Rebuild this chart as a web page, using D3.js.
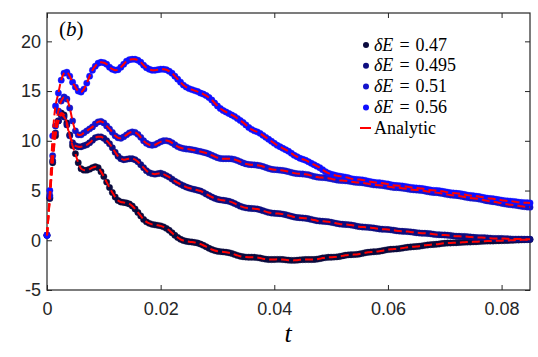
<!DOCTYPE html>
<html>
<head>
<meta charset="utf-8">
<script src="https://cdn.jsdelivr.net/npm/d3@7"></script>
<style>
  body { margin: 0; background: #fff; }
  svg { display: block; }
  .tick text { font-family: "Liberation Sans", Arial, sans-serif; font-size: 18px; fill: #262626; }
  .tick line { stroke: #262626; stroke-width: 1; }
</style>
</head>
<body>
<div id="chart"></div>
<script>
// sampling step of the simulation output (t axis)
const tStep = 0.0005

// delta E = 0.47
const dE047 = [
  0.5,4.2,7.8,10.5,12.0,12.8,12.6,11.8,10.6,9.5,
  8.7,7.8,7.2,7.05,7.05,7.15,7.3,7.4,7.3,6.9,
  6.4,5.85,5.3,4.8,4.35,4.0,3.85,3.8,3.75,3.65,
  3.45,3.15,2.8,2.45,2.1,1.85,1.7,1.6,1.55,1.5,
  1.45,1.35,1.2,1.0,0.75,0.5,0.28,0.1,-0.02,-0.1,
  -0.15,-0.18,-0.22,-0.28,-0.38,-0.5,-0.65,-0.8,-0.93,-1.03,
  -1.1,-1.14,-1.17,-1.2,-1.25,-1.32,-1.42,-1.52,-1.6,-1.66,
  -1.69,-1.7,-1.7,-1.71,-1.74,-1.79,-1.85,-1.9,-1.93,-1.94,
  -1.93,-1.92,-1.92,-1.94,-1.97,-2.0,-2.02,-2.02,-2.0,-1.97,
  -1.95,-1.94,-1.94,-1.94,-1.93,-1.9,-1.85,-1.79,-1.74,-1.71,
  -1.7,-1.69,-1.67,-1.63,-1.57,-1.51,-1.47,-1.45,-1.44,-1.42,
  -1.38,-1.32,-1.26,-1.21,-1.18,-1.16,-1.14,-1.1,-1.05,-0.99,
  -0.94,-0.91,-0.89,-0.87,-0.84,-0.79,-0.74,-0.7,-0.67,-0.65,
  -0.63,-0.6,-0.56,-0.51,-0.47,-0.44,-0.42,-0.4,-0.37,-0.33,
  -0.3,-0.28,-0.27,-0.26,-0.25,-0.23,-0.21,-0.19,-0.18,-0.17,
  -0.16,-0.15,-0.13,-0.11,-0.09,-0.08,-0.08,-0.07,-0.06,-0.05,
  -0.04,-0.03,-0.02,-0.01,0.0,0.02,0.03,0.04,0.05,0.06,
  0.07
]

// delta E = 0.495
const dE0495 = [
  0.5,4.3,8.0,10.8,12.0,12.6,12.4,11.6,10.5,9.8,
  9.5,9.4,9.4,9.5,9.6,9.8,10.05,10.3,10.4,10.4,
  10.25,10.0,9.7,9.3,8.85,8.45,8.2,8.1,8.15,8.2,
  8.2,8.1,7.9,7.6,7.3,7.0,6.8,6.7,6.65,6.7,
  6.75,6.65,6.5,6.35,6.15,5.95,5.78,5.62,5.48,5.35,
  5.25,5.17,5.1,5.03,4.95,4.82,4.65,4.5,4.35,4.22,
  4.12,4.06,4.02,3.98,3.92,3.83,3.7,3.56,3.43,3.33,
  3.26,3.22,3.2,3.18,3.14,3.07,2.98,2.88,2.8,2.74,
  2.71,2.69,2.67,2.63,2.57,2.49,2.41,2.34,2.29,2.26,
  2.24,2.21,2.16,2.1,2.03,1.97,1.93,1.91,1.89,1.86,
  1.81,1.75,1.69,1.64,1.61,1.59,1.57,1.53,1.48,1.42,
  1.37,1.34,1.32,1.3,1.27,1.23,1.18,1.14,1.11,1.1,
  1.08,1.05,1.01,0.96,0.92,0.9,0.89,0.87,0.84,0.8,
  0.76,0.73,0.71,0.7,0.68,0.65,0.61,0.57,0.55,0.54,
  0.53,0.51,0.48,0.44,0.41,0.4,0.39,0.38,0.36,0.33,
  0.3,0.28,0.27,0.27,0.26,0.24,0.21,0.19,0.18,0.18,
  0.18,0.17,0.15,0.13,0.12,0.12,0.12,0.12,0.11,0.1,
  0.1
]

// delta E = 0.51
const dE051 = [
  0.5,4.5,8.5,11.5,13.0,14.0,14.4,14.2,13.3,12.0,
  11.0,10.6,10.6,10.8,11.0,11.2,11.4,11.7,11.9,11.95,
  11.8,11.5,11.2,10.85,10.5,10.3,10.25,10.4,10.6,10.8,
  10.9,10.85,10.65,10.35,10.0,9.75,9.6,9.55,9.6,9.75,
  9.9,10.0,10.02,9.95,9.8,9.6,9.42,9.3,9.22,9.18,
  9.15,9.1,9.05,8.98,8.92,8.85,8.78,8.68,8.55,8.42,
  8.3,8.22,8.2,8.2,8.2,8.18,8.12,8.02,7.9,7.78,
  7.68,7.62,7.6,7.58,7.55,7.5,7.42,7.32,7.22,7.14,
  7.1,7.08,7.05,7.02,6.97,6.9,6.82,6.75,6.7,6.68,
  6.66,6.63,6.58,6.5,6.42,6.36,6.32,6.3,6.28,6.24,
  6.18,6.12,6.06,6.02,6.0,5.98,5.95,5.9,5.85,5.82,
  5.8,5.78,5.74,5.68,5.62,5.57,5.55,5.53,5.5,5.45,
  5.4,5.35,5.31,5.29,5.27,5.24,5.2,5.15,5.1,5.07,
  5.05,5.03,5.0,4.95,4.89,4.84,4.81,4.79,4.76,4.71,
  4.65,4.59,4.55,4.52,4.5,4.46,4.41,4.35,4.29,4.25,
  4.22,4.19,4.15,4.09,4.02,3.96,3.92,3.88,3.84,3.78,
  3.72,3.66,3.62,3.58,3.55,3.51,3.46,3.41,3.38,3.35,
  3.33
]

// delta E = 0.56
const dE056 = [
  0.5,5.0,10.5,13.5,14.8,16.1,16.8,16.9,16.5,15.9,
  15.4,15.0,14.9,15.2,15.8,16.5,17.1,17.5,17.8,17.9,
  17.85,17.7,17.4,17.2,17.1,17.15,17.4,17.7,18.0,18.15,
  18.2,18.2,18.1,17.9,17.6,17.35,17.2,17.1,17.1,17.15,
  17.2,17.2,17.15,17.0,16.8,16.5,16.2,15.9,15.6,15.4,
  15.25,15.15,15.05,14.95,14.8,14.7,14.55,14.35,14.1,13.8,
  13.5,13.25,13.05,12.9,12.75,12.6,12.45,12.25,12.05,11.85,
  11.6,11.35,11.15,11.0,10.9,10.75,10.55,10.35,10.15,9.95,
  9.75,9.55,9.4,9.25,9.1,8.95,8.75,8.55,8.4,8.25,
  8.15,8.05,7.9,7.75,7.6,7.45,7.3,7.1,6.9,6.75,
  6.65,6.57,6.5,6.45,6.4,6.35,6.28,6.2,6.15,6.12,
  6.1,6.07,6.02,5.95,5.88,5.83,5.8,5.78,5.75,5.7,
  5.65,5.58,5.53,5.5,5.48,5.46,5.42,5.37,5.32,5.28,
  5.26,5.24,5.21,5.16,5.1,5.05,5.02,5.0,4.98,4.94,
  4.89,4.83,4.78,4.75,4.73,4.7,4.66,4.6,4.54,4.5,
  4.47,4.44,4.4,4.34,4.28,4.23,4.2,4.17,4.13,4.08,
  4.03,3.99,3.96,3.94,3.91,3.87,3.83,3.8,3.78,3.77,
  3.75
]

const seriesLabels = ['0.47', '0.495', '0.51', '0.56']
const seriesValues = [dE047, dE0495, dE051, dE056]
const seriesColors = ['#0b0b3e', '#0e0e80', '#1414cc', '#1010ff']

const xTicks = [0, 0.02, 0.04, 0.06, 0.08]
const xTickLabels = ['0', '0.02', '0.04', '0.06', '0.08']
const yTicks = [-5, 0, 5, 10, 15, 20]
const yTickLabels = ['-5', '0', '5', '10', '15', '20']

//dimensions
const width = 538,
      height = 357,
      margin = { top: 13, right: 8, bottom: 67, left: 47 }

const svg = d3.select('#chart')
    .append('svg')
    .attr('width', width)
    .attr('height', height)

//scales
const x = d3.scaleLinear()
    .domain([0, 0.085])
    .range([margin.left, width - margin.right])
const y = d3.scaleLinear()
    .domain([-5, 22.85])
    .range([height - margin.bottom, margin.top])

//axes, ticks pointing inward (matlab style)
svg.append('g')
    .attr('transform', `translate(0,${height - margin.bottom})`)
    .call(d3.axisBottom(x).tickValues(xTicks).tickFormat((d, i) => xTickLabels[i])
        .tickSize(-5).tickSizeOuter(0).tickPadding(12))
    .call(g => g.select('.domain').remove())
svg.append('g')
    .attr('transform', `translate(0,${margin.top})`)
    .call(d3.axisTop(x).tickValues(xTicks).tickFormat('').tickSize(-5).tickSizeOuter(0))
    .call(g => g.select('.domain').remove())
svg.append('g')
    .attr('transform', `translate(${margin.left},0)`)
    .call(d3.axisLeft(y).tickValues(yTicks).tickFormat((d, i) => yTickLabels[i])
        .tickSize(-5).tickSizeOuter(0).tickPadding(6))
    .call(g => g.select('.domain').remove())
svg.append('g')
    .attr('transform', `translate(${width - margin.right},0)`)
    .call(d3.axisRight(y).tickValues(yTicks).tickFormat('').tickSize(-5).tickSizeOuter(0))
    .call(g => g.select('.domain').remove())

//box
svg.append('rect')
    .attr('x', margin.left)
    .attr('y', margin.top)
    .attr('width', width - margin.left - margin.right)
    .attr('height', height - margin.top - margin.bottom)
    .style('fill', 'none')
    .style('stroke', '#262626')
    .style('stroke-width', 1.2)

//simulated points, soft edge like the original markers
seriesValues.forEach((vals, k) => {
    svg.append('g')
        .selectAll('circle')
        .data(vals)
        .join('circle')
        .attr('cx', (d, i) => x(i * tStep))
        .attr('cy', d => y(d))
        .attr('r', 3.2)
        .style('fill', seriesColors[k])
        .style('stroke', seriesColors[k])
        .style('stroke-opacity', 0.35)
        .style('stroke-width', 1)
})

//analytic curves (red dashed)
const line = d3.line()
    .x((d, i) => x(i * tStep))
    .y(d => y(d))
    .curve(d3.curveCatmullRom)
seriesValues.forEach(vals => {
    svg.append('path')
        .attr('d', line(vals))
        .style('fill', 'none')
        .style('stroke', '#ff0000')
        .style('stroke-width', 2)
        .style('stroke-dasharray', '8,4')
})

//panel label
svg.append('text')
    .attr('x', 59)
    .attr('y', 36)
    .style('font-family', '"Liberation Serif", "Times New Roman", serif')
    .style('font-size', '21px')
    .style('fill', '#000')
    .html('(<tspan font-style="italic">b</tspan>)')

//x label
svg.append('text')
    .attr('x', 288)
    .attr('y', 342)
    .attr('text-anchor', 'middle')
    .style('font-family', '"Liberation Serif", "Times New Roman", serif')
    .style('font-style', 'italic')
    .style('font-size', '26px')
    .style('fill', '#000')
    .text('t')

//legend
const legend = svg.append('g')
    .style('font-family', '"Liberation Serif", "Times New Roman", serif')
    .style('font-size', '18px')
    .style('fill', '#000')
seriesLabels.forEach((lab, k) => {
    const yy = 45 + k * 20.8
    legend.append('circle')
        .attr('cx', 366)
        .attr('cy', yy)
        .attr('r', 3)
        .style('fill', seriesColors[k])
    const t = legend.append('text')
        .attr('x', 374)
        .attr('y', yy + 5.5)
    t.append('tspan').style('font-style', 'italic').text('\u03B4E')
    t.append('tspan').text('\u2004=\u2004' + lab)
})
legend.append('line')
    .attr('x1', 360).attr('x2', 371)
    .attr('y1', 128).attr('y2', 128)
    .style('stroke', '#ff0000')
    .style('stroke-width', 2)
legend.append('text')
    .attr('x', 374)
    .attr('y', 133.5)
    .text('Analytic')
</script>
</body>
</html>
